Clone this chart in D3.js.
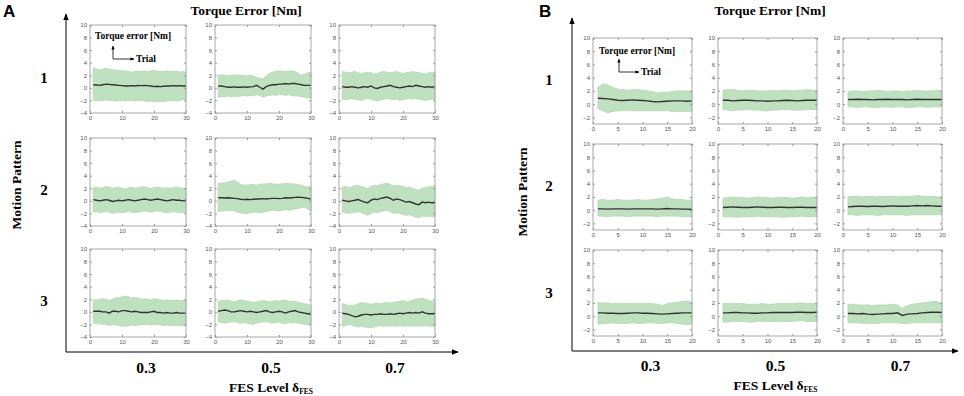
<!DOCTYPE html>
<html><head><meta charset="utf-8">
<script src="https://cdn.jsdelivr.net/npm/d3@7"></script>
<style>
html,body{margin:0;padding:0;background:#fff;}
svg{display:block;}
</style></head>
<body>
<script>
// ---------- DATA ----------
const trialsA = d3.range(1, 31);
const trialsB = d3.range(1, 21);
const fesLevels = ["0.3", "0.5", "0.7"];
const motionPatterns = ["1", "2", "3"];
const yTicksA = [-4, -2, 0, 2, 4, 6, 8, 10];
const yTicksB = [-2, 0, 2, 4, 6, 8, 10];
const xTicksA = [0, 10, 20, 30];
const xTicksB = [0, 5, 10, 15, 20];

// Panel A, pattern 1
const meanA_1_03 = [0.5,0.45,0.4,0.5,0.6,0.55,0.5,0.45,0.4,0.35,0.3,0.3,0.35,0.3,0.4,0.35,0.4,0.35,0.3,0.2,0.25,0.2,0.25,0.3,0.3,0.35,0.3,0.35,0.3,0.3];
const upA_1_03 = [3.2,3.0,2.9,3.0,3.1,3.0,2.9,2.8,2.8,2.7,2.7,2.6,2.5,2.6,2.7,2.6,2.7,2.6,2.7,2.8,2.7,2.6,2.6,2.7,2.6,2.6,2.7,2.5,2.6,2.5];
const loA_1_03 = [-2.0,-2.1,-2.0,-2.0,-1.9,-2.0,-2.0,-2.1,-2.0,-2.0,-2.1,-2.0,-2.0,-2.1,-2.0,-2.0,-2.1,-2.2,-2.1,-2.2,-2.2,-2.1,-2.2,-2.1,-2.0,-2.0,-2.1,-2.0,-1.9,-1.8];
const meanA_1_05 = [0.3,0.3,0.2,0.1,0.1,0.15,0.1,0.1,0.15,0.1,0.15,0.2,0.4,0.1,-0.2,0.2,0.4,0.5,0.5,0.6,0.6,0.7,0.6,0.7,0.7,0.6,0.5,0.4,0.4,0.4];
const upA_1_05 = [2.0,2.1,2.0,1.9,2.0,2.0,2.1,2.0,2.0,1.9,2.0,1.9,1.7,1.5,1.4,1.9,2.3,2.5,2.6,2.7,2.7,2.6,2.7,2.7,2.6,2.3,2.0,2.2,2.4,2.5];
const loA_1_05 = [-1.5,-1.4,-1.4,-1.3,-1.4,-1.3,-1.4,-1.3,-1.2,-1.3,-1.2,-1.3,-1.1,-1.2,-1.5,-1.3,-1.2,-1.1,-1.2,-1.0,-1.1,-1.2,-1.1,-1.2,-1.3,-1.3,-1.4,-1.5,-1.6,-1.6];
const meanA_1_07 = [0.2,0.1,0.1,0.2,0.1,0.0,0.1,0.2,0.1,0.3,0.0,-0.1,0.1,0.2,0.3,0.4,0.2,0.1,0.0,0.1,0.2,0.3,0.2,0.4,0.3,0.2,0.1,0.2,0.1,0.2];
const upA_1_07 = [2.6,2.5,2.4,2.5,2.6,2.4,2.3,2.4,2.5,2.4,2.2,2.3,2.5,2.6,2.5,2.4,2.5,2.6,2.4,2.3,2.4,2.5,2.6,2.5,2.4,2.3,2.2,2.4,2.5,2.5];
const loA_1_07 = [-1.8,-1.9,-1.8,-1.7,-1.8,-1.9,-2.0,-1.8,-1.7,-1.8,-2.0,-2.1,-1.9,-1.8,-1.7,-1.8,-1.9,-1.8,-2.0,-1.9,-1.8,-1.7,-1.8,-1.7,-1.8,-1.9,-2.0,-1.9,-1.8,-1.8];
// Panel A, pattern 2
const meanA_2_03 = [0.2,0.1,0.0,0.1,0.2,0.1,-0.1,0.0,0.1,0.0,0.1,0.2,0.1,0.0,0.1,0.2,0.3,0.2,0.1,0.2,0.3,0.2,0.1,0.0,0.1,0.2,0.1,0.1,0.0,0.1];
const upA_2_03 = [2.1,2.2,2.0,2.1,2.3,2.2,2.0,2.1,2.2,2.0,1.9,2.1,2.2,2.0,2.1,2.2,2.3,2.1,2.0,2.1,2.2,2.1,2.0,2.1,2.0,2.1,2.2,2.1,2.0,2.0];
const loA_2_03 = [-1.8,-1.7,-1.9,-1.8,-1.7,-1.8,-2.0,-1.9,-1.8,-1.9,-1.8,-1.7,-1.8,-1.9,-1.8,-1.7,-1.6,-1.7,-1.8,-1.7,-1.6,-1.7,-1.8,-1.9,-1.8,-1.7,-1.8,-1.8,-1.9,-1.8];
const meanA_2_05 = [0.5,0.5,0.45,0.5,0.45,0.4,0.35,0.25,0.2,0.25,0.2,0.25,0.3,0.3,0.35,0.3,0.35,0.4,0.4,0.35,0.4,0.5,0.45,0.5,0.55,0.6,0.55,0.5,0.4,0.3];
const upA_2_05 = [2.8,2.8,2.9,3.0,3.1,3.3,3.0,2.6,2.5,2.5,2.6,2.6,2.5,2.6,2.7,2.7,2.8,2.7,2.7,2.6,2.7,2.8,2.8,2.7,2.7,2.6,2.5,2.3,2.2,2.3];
const loA_2_05 = [-1.7,-1.6,-1.6,-1.5,-1.5,-1.6,-1.8,-1.9,-2.0,-2.0,-1.9,-1.8,-1.8,-1.9,-1.8,-1.7,-1.6,-1.5,-1.5,-1.6,-1.5,-1.4,-1.5,-1.4,-1.3,-1.2,-1.1,-1.0,-1.3,-1.7];
const meanA_2_07 = [0.1,0.0,-0.1,0.0,0.1,0.2,0.0,-0.2,-0.3,0.1,0.3,0.2,0.4,0.5,0.6,0.4,0.1,0.3,0.2,0.0,-0.2,-0.1,-0.3,-0.5,-0.6,-0.2,-0.3,-0.2,-0.3,-0.3];
const upA_2_07 = [2.2,2.3,2.1,2.2,2.4,2.5,2.3,2.1,2.0,2.3,2.5,2.4,2.6,2.7,2.8,2.6,2.4,2.5,2.4,2.3,2.1,2.2,2.0,1.8,1.7,2.0,2.1,2.2,2.3,2.4];
const loA_2_07 = [-1.8,-1.9,-2.0,-1.9,-1.8,-1.7,-1.9,-2.1,-2.3,-2.0,-1.8,-1.9,-1.7,-1.6,-1.5,-1.7,-2.0,-1.9,-2.0,-2.2,-2.3,-2.2,-2.4,-2.6,-2.7,-2.4,-2.5,-2.4,-2.5,-2.5];
// Panel A, pattern 3
const meanA_3_03 = [0.1,0.1,0.1,0.0,0.0,-0.2,0.1,0.1,0.0,0.2,0.2,0.1,0.0,0.1,0.0,-0.1,-0.1,-0.1,0.0,0.1,-0.1,-0.1,-0.2,-0.1,-0.2,-0.2,-0.1,-0.2,-0.2,-0.2];
const upA_3_03 = [1.9,1.9,2.0,2.1,2.0,1.8,2.0,2.2,2.3,2.4,2.5,2.4,2.2,2.3,2.2,2.0,2.1,2.0,1.9,2.1,2.0,1.9,1.8,1.9,1.8,1.8,1.9,1.8,1.8,1.8];
const loA_3_03 = [-1.8,-1.9,-1.9,-2.0,-2.0,-2.2,-2.0,-2.1,-2.2,-2.3,-2.3,-2.2,-2.1,-2.2,-2.1,-2.0,-2.0,-2.0,-2.1,-2.0,-2.0,-2.1,-2.2,-2.1,-2.2,-2.2,-2.1,-2.2,-2.2,-2.2];
const meanA_3_05 = [0.1,0.2,0.3,0.2,0.0,0.0,0.1,0.2,0.1,0.0,0.1,0.0,-0.1,0.0,0.1,0.2,0.0,-0.1,0.0,0.1,0.0,-0.2,0.0,0.1,0.2,0.0,-0.1,-0.2,-0.3,-0.4];
const upA_3_05 = [1.7,1.8,1.8,1.9,1.7,1.6,1.8,1.9,1.8,1.7,1.6,1.5,1.6,1.7,1.8,1.7,1.6,1.7,1.8,1.7,1.8,1.9,1.7,1.6,1.7,1.5,1.4,1.3,1.2,1.0];
const loA_3_05 = [-1.6,-1.7,-1.8,-1.7,-1.6,-1.5,-1.7,-1.8,-1.7,-1.8,-1.9,-2.0,-1.8,-1.7,-1.6,-1.5,-1.7,-1.8,-1.7,-1.6,-1.8,-1.9,-1.7,-1.8,-1.7,-1.8,-1.9,-2.0,-2.0,-2.0];
const meanA_3_07 = [-0.2,-0.3,-0.4,-0.6,-0.8,-0.7,-0.5,-0.4,-0.4,-0.5,-0.4,-0.4,-0.3,-0.4,-0.4,-0.3,-0.4,-0.3,-0.2,-0.3,-0.2,-0.1,-0.2,-0.1,-0.2,0.0,-0.2,-0.3,-0.3,-0.3];
const upA_3_07 = [1.3,1.2,1.0,1.0,1.1,1.3,1.5,1.4,1.3,1.2,1.3,1.4,1.3,1.4,1.5,1.4,1.5,1.6,1.7,1.8,1.6,1.7,1.9,2.0,2.1,2.2,2.0,1.8,1.7,1.6];
const loA_3_07 = [-2.3,-2.2,-2.0,-2.1,-2.3,-2.4,-2.3,-2.4,-2.5,-2.5,-2.4,-2.3,-2.2,-2.3,-2.2,-2.3,-2.2,-2.3,-2.2,-2.3,-2.2,-2.3,-2.2,-2.3,-2.2,-2.3,-2.2,-2.3,-2.3,-2.3];

// Panel B, pattern 1
const meanB_1_03 = [0.9,0.85,0.8,0.7,0.6,0.55,0.6,0.65,0.6,0.55,0.5,0.4,0.35,0.4,0.45,0.5,0.5,0.5,0.45,0.5];
const upB_1_03 = [2.5,3.1,2.9,2.5,2.3,2.2,2.1,2.2,2.2,2.1,2.0,1.9,1.7,1.8,1.8,1.9,2.0,2.0,2.0,2.0];
const loB_1_03 = [-0.7,-1.0,-1.3,-1.1,-1.0,-1.0,-0.9,-1.0,-1.0,-1.0,-1.0,-1.0,-1.0,-1.0,-1.0,-1.1,-1.1,-1.1,-1.1,-1.1];
const meanB_1_05 = [0.6,0.6,0.5,0.55,0.6,0.6,0.55,0.5,0.5,0.45,0.5,0.5,0.55,0.6,0.55,0.5,0.55,0.6,0.6,0.6];
const upB_1_05 = [2.1,2.2,2.2,2.1,2.0,2.1,2.1,2.0,2.0,2.0,2.1,2.0,2.1,2.1,2.0,2.1,2.1,2.2,2.1,2.1];
const loB_1_05 = [-0.8,-0.9,-1.0,-0.9,-0.9,-0.8,-0.9,-0.9,-1.0,-1.0,-0.9,-0.9,-0.8,-0.8,-0.9,-0.9,-0.9,-0.8,-0.8,-0.8];
const meanB_1_07 = [0.7,0.7,0.75,0.7,0.7,0.65,0.7,0.7,0.75,0.7,0.7,0.7,0.65,0.7,0.75,0.7,0.7,0.7,0.7,0.7];
const upB_1_07 = [1.9,2.0,2.0,1.9,2.0,2.0,2.1,2.0,1.9,2.0,2.0,1.9,2.0,2.0,2.1,2.0,2.0,2.0,2.1,2.0];
const loB_1_07 = [-0.4,-0.4,-0.5,-0.4,-0.4,-0.5,-0.5,-0.4,-0.4,-0.5,-0.4,-0.4,-0.5,-0.5,-0.4,-0.4,-0.5,-0.4,-0.4,-0.4];
// Panel B, pattern 2
const meanB_2_03 = [0.2,0.2,0.15,0.2,0.2,0.2,0.15,0.2,0.2,0.2,0.2,0.2,0.15,0.2,0.25,0.2,0.2,0.15,0.15,0.1];
const upB_2_03 = [1.5,1.6,1.5,1.5,1.6,1.5,1.5,1.5,1.6,1.5,1.5,1.6,1.7,1.8,2.0,1.7,1.6,1.6,1.5,1.5];
const loB_2_03 = [-0.9,-0.9,-1.0,-0.9,-0.9,-0.9,-1.0,-0.9,-0.9,-0.9,-0.9,-0.9,-1.0,-0.9,-0.9,-0.9,-0.9,-1.0,-1.0,-1.0];
const meanB_2_05 = [0.4,0.45,0.5,0.45,0.4,0.4,0.45,0.5,0.45,0.4,0.4,0.45,0.45,0.4,0.4,0.45,0.45,0.4,0.4,0.4];
const upB_2_05 = [1.8,1.9,2.0,1.9,1.9,1.8,1.9,2.0,1.9,1.9,1.8,1.9,1.9,1.9,1.8,1.9,2.0,1.9,1.9,1.9];
const loB_2_05 = [-1.0,-1.0,-1.0,-1.1,-1.0,-1.0,-1.0,-0.9,-1.0,-1.0,-1.0,-1.0,-1.1,-1.0,-1.0,-1.0,-0.9,-1.0,-1.0,-1.0];
const meanB_2_07 = [0.5,0.55,0.6,0.6,0.55,0.6,0.6,0.55,0.6,0.65,0.6,0.6,0.6,0.65,0.7,0.65,0.7,0.65,0.6,0.6];
const upB_2_07 = [2.0,2.1,2.1,2.0,2.1,2.1,2.0,2.1,2.1,2.1,2.0,2.1,2.1,2.1,2.2,2.1,2.1,2.1,2.0,2.0];
const loB_2_07 = [-0.7,-0.7,-0.8,-0.7,-0.7,-0.7,-0.8,-0.7,-0.7,-0.7,-0.7,-0.7,-0.8,-0.7,-0.7,-0.7,-0.7,-0.7,-0.7,-0.7];
// Panel B, pattern 3
const meanB_3_03 = [0.5,0.5,0.45,0.45,0.4,0.4,0.45,0.5,0.5,0.45,0.45,0.4,0.35,0.3,0.35,0.4,0.45,0.5,0.5,0.5];
const upB_3_03 = [2.1,2.0,2.0,1.9,1.9,1.9,1.9,1.9,1.9,1.9,1.9,1.9,1.8,1.6,1.9,2.0,2.1,2.2,2.3,2.1];
const loB_3_03 = [-1.2,-1.1,-1.1,-1.0,-1.1,-1.1,-1.1,-1.0,-1.1,-1.1,-1.0,-1.0,-1.1,-1.1,-1.0,-1.0,-1.1,-1.2,-1.3,-1.2];
const meanB_3_05 = [0.5,0.5,0.55,0.55,0.5,0.5,0.45,0.45,0.5,0.5,0.55,0.55,0.55,0.55,0.55,0.6,0.6,0.55,0.55,0.6];
const upB_3_05 = [1.9,1.9,1.9,1.9,1.9,1.8,1.8,1.8,1.9,1.8,1.8,1.9,1.9,1.9,1.9,2.0,2.0,1.9,1.9,1.9];
const loB_3_05 = [-0.9,-0.9,-0.8,-0.8,-0.8,-0.9,-0.9,-0.8,-0.8,-0.8,-0.8,-0.8,-0.8,-0.8,-0.8,-0.7,-0.7,-0.8,-0.8,-0.8];
const meanB_3_07 = [0.4,0.4,0.35,0.4,0.3,0.25,0.3,0.35,0.4,0.4,0.5,0.1,0.3,0.35,0.4,0.5,0.55,0.6,0.6,0.55];
const upB_3_07 = [1.8,1.8,1.7,1.7,1.7,1.6,1.7,1.7,1.7,1.8,1.7,1.2,1.6,1.8,1.9,2.0,2.1,2.2,2.2,2.0];
const loB_3_07 = [-1.0,-1.0,-1.0,-1.1,-1.1,-1.1,-1.1,-1.0,-1.0,-1.0,-1.0,-1.1,-1.1,-1.0,-1.0,-1.0,-1.0,-1.0,-1.0,-1.0];

const seriesA = [
  [[meanA_1_03, upA_1_03, loA_1_03], [meanA_1_05, upA_1_05, loA_1_05], [meanA_1_07, upA_1_07, loA_1_07]],
  [[meanA_2_03, upA_2_03, loA_2_03], [meanA_2_05, upA_2_05, loA_2_05], [meanA_2_07, upA_2_07, loA_2_07]],
  [[meanA_3_03, upA_3_03, loA_3_03], [meanA_3_05, upA_3_05, loA_3_05], [meanA_3_07, upA_3_07, loA_3_07]]
];
const seriesB = [
  [[meanB_1_03, upB_1_03, loB_1_03], [meanB_1_05, upB_1_05, loB_1_05], [meanB_1_07, upB_1_07, loB_1_07]],
  [[meanB_2_03, upB_2_03, loB_2_03], [meanB_2_05, upB_2_05, loB_2_05], [meanB_2_07, upB_2_07, loB_2_07]],
  [[meanB_3_03, upB_3_03, loB_3_03], [meanB_3_05, upB_3_05, loB_3_05], [meanB_3_07, upB_3_07, loB_3_07]]
];

// ---------- LAYOUT ----------
const W = 964, H = 396;
const svg = d3.select("body").append("svg").attr("width", W).attr("height", H);
const defs = svg.append("defs");
defs.append("marker").attr("id", "arr").attr("viewBox", "0 0 10 10").attr("refX", 9).attr("refY", 5)
  .attr("markerWidth", 7).attr("markerHeight", 7).attr("orient", "auto-start-reverse")
  .append("path").attr("d", "M0,1 L10,5 L0,9 z").attr("fill", "#000");
defs.append("marker").attr("id", "arrs").attr("viewBox", "0 0 10 10").attr("refX", 9).attr("refY", 5)
  .attr("markerWidth", 5).attr("markerHeight", 5).attr("orient", "auto-start-reverse")
  .append("path").attr("d", "M0,1 L10,5 L0,9 z").attr("fill", "#000");

const SERIF = "'Liberation Serif','DejaVu Serif',serif";
const SANS = "'Liberation Sans',Arial,sans-serif";

const panels = [
  { letter: "A", letterX: 3, series: seriesA, trials: trialsA, xMax: 30, yMin: -4, yTicks: yTicksA, xTicks: xTicksA,
    colX: [90, 215, 339], colW: 96, rowY: [25, 138, 249], rowH: 88,
    axisX: 66, axisTop: 14, axisY: 352, axisRight: 458,
    titleX: 246, rowLabelX: 44, rowLabelY: [83, 195, 306], mpX: 21, mpY: 185,
    colLabelY: 373, fesY: 392 },
  { letter: "B", letterX: 539, series: seriesB, trials: trialsB, xMax: 20, yMin: -3, yTicks: yTicksB, xTicks: xTicksB,
    colX: [593, 718, 843], colW: 99, rowY: [38, 144, 250], rowH: 86,
    axisX: 572, axisTop: 18, axisY: 351, axisRight: 958,
    titleX: 770, rowLabelX: 549, rowLabelY: [85, 191, 298], mpX: 527, mpY: 192,
    colLabelY: 371, fesY: 390 }
];

panels.forEach(p => {
  const g = svg.append("g");
  g.append("text").attr("x", p.letterX).attr("y", 17).text(p.letter)
    .attr("font-family", SANS).attr("font-weight", "bold").attr("font-size", 17);
  g.append("text").attr("x", p.titleX).attr("y", 15).attr("text-anchor", "middle").text("Torque Error [Nm]")
    .attr("font-family", SERIF).attr("font-weight", "bold").attr("font-size", 13.5);
  g.append("line").attr("x1", p.axisX).attr("y1", p.axisY).attr("x2", p.axisX).attr("y2", p.axisTop)
    .attr("stroke", "#000").attr("stroke-width", 1).attr("marker-end", "url(#arr)");
  g.append("line").attr("x1", p.axisX).attr("y1", p.axisY).attr("x2", p.axisRight).attr("y2", p.axisY)
    .attr("stroke", "#000").attr("stroke-width", 1).attr("marker-end", "url(#arr)");
  g.append("text").attr("transform", `translate(${p.mpX},${p.mpY}) rotate(-90)`).attr("text-anchor", "middle")
    .text("Motion Pattern").attr("font-family", SERIF).attr("font-weight", "bold").attr("font-size", 13.5);
  motionPatterns.forEach((m, i) => {
    g.append("text").attr("x", p.rowLabelX).attr("y", p.rowLabelY[i]).attr("text-anchor", "middle").text(m)
      .attr("font-family", SERIF).attr("font-weight", "bold").attr("font-size", 15);
  });
  fesLevels.forEach((f, j) => {
    g.append("text").attr("x", p.colX[j] + p.colW / 2 + 8).attr("y", p.colLabelY).attr("text-anchor", "middle").text(f)
      .attr("font-family", SERIF).attr("font-weight", "bold").attr("font-size", 15.5);
  });
  const fes = g.append("text").attr("x", p.colX[1] + p.colW / 2 + 8).attr("y", p.fesY).attr("text-anchor", "middle")
    .attr("font-family", SERIF).attr("font-weight", "bold").attr("font-size", 13.5);
  fes.append("tspan").text("FES Level δ");
  fes.append("tspan").attr("font-size", 7.5).attr("dy", 2).text("FES");

  p.series.forEach((row, i) => {
    row.forEach((s, j) => {
      const x0 = p.colX[j], y0 = p.rowY[i];
      const x = d3.scaleLinear().domain([0, p.xMax]).range([x0, x0 + p.colW]);
      const y = d3.scaleLinear().domain([p.yMin, 10]).range([y0 + p.rowH, y0]);
      const sg = g.append("g");
      const [mean, up, lo] = s;
      const pts = p.trials.map((t, k) => ({ t, m: mean[k], u: up[k], l: lo[k] }));
      sg.append("path").datum(pts)
        .attr("d", d3.area().x(d => x(d.t)).y0(d => y(d.l)).y1(d => y(d.u)))
        .attr("fill", "#c0e1c0").attr("stroke", "#b2d8b2").attr("stroke-width", 0.8);
      sg.append("path").datum(pts)
        .attr("d", d3.line().x(d => x(d.t)).y(d => y(d.m)))
        .attr("fill", "none").attr("stroke", "#333").attr("stroke-width", 1.4);
      sg.append("rect").attr("x", x0).attr("y", y0).attr("width", p.colW).attr("height", p.rowH)
        .attr("fill", "none").attr("stroke", "#a8a8a8").attr("stroke-width", 1);
      const axL = d3.axisLeft(y).tickValues(p.yTicks).tickSize(-2).tickPadding(3);
      const axB = d3.axisBottom(x).tickValues(p.xTicks).tickSize(-2).tickPadding(3);
      const axR = d3.axisRight(y).tickValues(p.yTicks).tickSize(-2).tickFormat("");
      const axT = d3.axisTop(x).tickValues(p.xTicks).tickSize(-2).tickFormat("");
      [[axL, `translate(${x0},0)`], [axB, `translate(0,${y0 + p.rowH})`],
       [axR, `translate(${x0 + p.colW},0)`], [axT, `translate(0,${y0})`]].forEach(([ax, tr]) => {
        const a = sg.append("g").attr("transform", tr).call(ax);
        a.select(".domain").remove();
        a.selectAll("line").attr("stroke", "#999");
        a.selectAll("text").attr("font-family", SANS).attr("font-size", 6).attr("fill", "#555");
      });
    });
  });
});

[
  { tx: 95, ty: 39, ax: 113, aTop: 46, aY: 59, aRight: 134, trX: 136 },
  { tx: 599, ty: 54, ax: 619, aTop: 59, aY: 72, aRight: 639, trX: 641 }
].forEach(a => {
  svg.append("text").attr("x", a.tx).attr("y", a.ty).text("Torque error [Nm]")
    .attr("font-family", SERIF).attr("font-weight", "bold").attr("font-size", 9.5);
  svg.append("path").attr("d", `M${a.ax},${a.aY} L${a.ax},${a.aTop}`).attr("stroke", "#000").attr("stroke-width", 0.8)
    .attr("fill", "none").attr("marker-end", "url(#arrs)");
  svg.append("path").attr("d", `M${a.ax},${a.aY} L${a.aRight},${a.aY}`).attr("stroke", "#000").attr("stroke-width", 0.8)
    .attr("fill", "none").attr("marker-end", "url(#arrs)");
  svg.append("text").attr("x", a.trX).attr("y", a.aY + 3).text("Trial")
    .attr("font-family", SERIF).attr("font-weight", "bold").attr("font-size", 9.5);
});
</script>
</body></html>
